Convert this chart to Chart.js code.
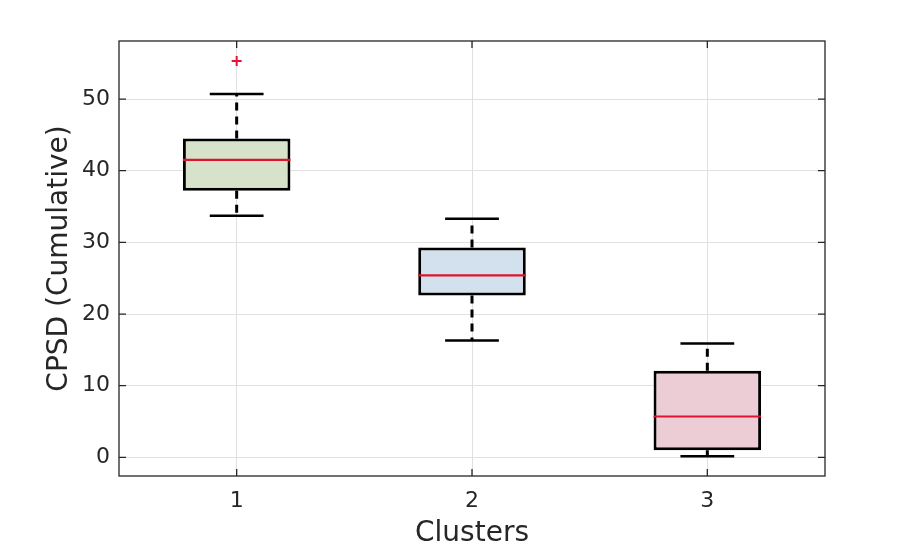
<!DOCTYPE html>
<html>
<head>
<meta charset="utf-8">
<script src="https://cdn.jsdelivr.net/npm/chart.js@4.4.1/dist/chart.umd.min.js"></script>
<style>
  html, body { margin: 0; padding: 0; background: #fff; }
  #wrap { width: 913px; height: 549px; }
</style>
</head>
<body>
<div id="wrap"><canvas id="boxChart"></canvas></div>
<script>
// Box plot values
const clusters = [1, 2, 3];
const q1 = [37.2, 22.6, 1.0];
const q3 = [44.5, 29.3, 12.1];
const medians = [41.5, 25.4, 5.7];
const whiskerLo = [33.7, 16.3, 0.15];
const whiskerHi = [50.7, 33.3, 15.9];
const outlierX = [1];
const outlierY = [55.3];
const yTicks = [0, 10, 20, 30, 40, 50];

const boxFills = ['rgb(214,227,202)', 'rgb(211,225,238)', 'rgb(236,205,213)'];
const ink = '#262626';
const boxFrac = 0.457;          // box width as fraction of cluster spacing
const boxHalf = boxFrac / 2;
const capHalf = boxHalf / 2;

// helpers to build line segments separated by gaps
function segs(list) {
    const out = [];
    list.forEach(s => {
        out.push({ x: s[0], y: s[1] }, { x: s[2], y: s[3] }, { x: s[2], y: null });
    });
    return out;
}

const whiskerData = segs(clusters.flatMap((c, i) => [
    [c, q3[i], c, whiskerHi[i]],
    [c, q1[i], c, whiskerLo[i]]
]));
const capData = segs(clusters.flatMap((c, i) => [
    [c - capHalf, whiskerHi[i], c + capHalf, whiskerHi[i]],
    [c - capHalf, whiskerLo[i], c + capHalf, whiskerLo[i]]
]));
const medianData = segs(clusters.map((c, i) => [c - boxHalf, medians[i], c + boxHalf, medians[i]]));

// frame + inward ticks like the original
const frame = {
    id: 'frame',
    afterDraw(chart) {
        const { ctx, chartArea: a, scales } = chart;
        const len = 7;
        ctx.save();
        ctx.strokeStyle = ink;
        ctx.lineWidth = 1.3;
        ctx.strokeRect(a.left, a.top, a.right - a.left, a.bottom - a.top);
        ctx.beginPath();
        scales.y.ticks.forEach(t => {
            const py = scales.y.getPixelForValue(t.value);
            ctx.moveTo(a.left, py); ctx.lineTo(a.left + len, py);
            ctx.moveTo(a.right, py); ctx.lineTo(a.right - len, py);
        });
        scales.x.ticks.forEach(t => {
            const px = scales.x.getPixelForValue(t.value);
            ctx.moveTo(px, a.bottom); ctx.lineTo(px, a.bottom - len);
            ctx.moveTo(px, a.top); ctx.lineTo(px, a.top + len);
        });
        ctx.stroke();
        ctx.restore();
    }
};

const config = {
    type: 'bar',
    data: {
        datasets: [{
            type: 'line',
            data: medianData,
            borderColor: 'rgb(220,20,45)',
            borderWidth: 2.2,
            pointRadius: 0,
            spanGaps: false,
            order: 0
        }, {
            type: 'bar',
            data: clusters.map((c, i) => ({ x: c, y: [q1[i], q3[i]] })),
            backgroundColor: boxFills,
            borderColor: '#000',
            borderWidth: 3,
            borderSkipped: false,
            categoryPercentage: 1,
            barPercentage: boxFrac,
            order: 1
        }, {
            type: 'line',
            data: whiskerData,
            borderColor: '#000',
            borderWidth: 3,
            borderDash: [8, 6],
            pointRadius: 0,
            spanGaps: false,
            order: 2
        }, {
            type: 'line',
            data: capData,
            borderColor: '#000',
            borderWidth: 2.5,
            pointRadius: 0,
            spanGaps: false,
            order: 2
        }, {
            type: 'line',
            data: outlierX.map((x, i) => ({ x: x, y: outlierY[i] })),
            showLine: false,
            pointStyle: 'cross',
            pointRadius: 5,
            borderColor: 'rgb(230,20,50)',
            borderWidth: 2,
            order: 0
        }]
    },
    options: {
        responsive: true,
        maintainAspectRatio: false,
        animation: false,
        layout: { padding: { left: 40, top: 41, right: 88, bottom: 0 } },
        plugins: { legend: { display: false }, tooltip: { enabled: false } },
        scales: {
            x: {
                type: 'linear',
                min: 0.5,
                max: 3.5,
                offset: false,
                afterBuildTicks: s => { s.ticks = clusters.map(v => ({ value: v })); },
                afterFit: s => { s.height = 73; },
                grid: { color: 'rgb(224,224,224)', drawTicks: false, offset: false },
                border: { display: false },
                ticks: {
                    padding: 12,
                    color: ink,
                    font: { family: 'DejaVu Sans', size: 22 }
                },
                title: {
                    display: true,
                    text: 'Clusters',
                    color: ink,
                    padding: { top: 0, bottom: -2 },
                    font: { family: 'DejaVu Sans', size: 28 }
                }
            },
            y: {
                type: 'linear',
                min: -2.6,
                max: 58.1,
                afterBuildTicks: s => { s.ticks = yTicks.map(v => ({ value: v })); },
                afterFit: s => { s.width = 79; },
                grid: { color: 'rgb(224,224,224)', drawTicks: false },
                border: { display: false },
                ticks: {
                    padding: 9,
                    color: ink,
                    font: { family: 'DejaVu Sans', size: 22 }
                },
                title: {
                    display: true,
                    text: 'CPSD (Cumulative)',
                    color: ink,
                    padding: { top: 3, bottom: 0 },
                    font: { family: 'DejaVu Sans', size: 28 }
                }
            }
        }
    },
    plugins: [frame]
};

const boxChart = new Chart(document.getElementById('boxChart'), config);
</script>
</body>
</html>
